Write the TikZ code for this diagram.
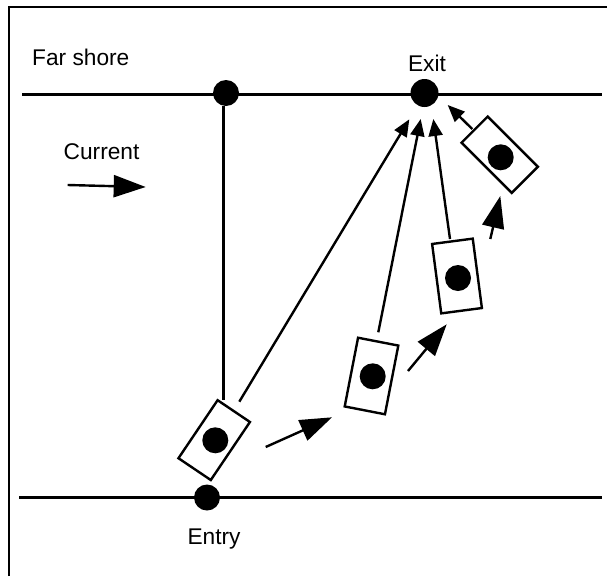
\documentclass[tikz,border=0pt]{standalone}
\usepackage{fontspec}
\setmainfont{Liberation Sans}
\usetikzlibrary{arrows.meta}
\tikzset{
  ink/.style={line width=2.4pt,black},
  shore/.style={ink},
  dot/.style={circle,fill=black,draw=none,inner sep=0pt,minimum size=26pt},
  boat/.style={rectangle,draw=black,line width=2.4pt,fill=white,inner sep=0pt,minimum width=40pt,minimum height=70pt},
  label/.style={inner sep=0pt,font=\fontsize{22.7pt}{24pt}\selectfont},
  bigarrow/.style={ink,-{Triangle[length=32pt,width=22pt]}},
  smallarrow/.style={ink,-{Triangle[length=17pt,width=14pt]}}
}
\begin{document}
\begin{tikzpicture}[x=1pt,y=-1pt]
\useasboundingbox (0,0) rectangle (607,576);
\coordinate (fl) at (22,94.3);
\coordinate (fr) at (602,94.3);
\coordinate (nl) at (19,497.3);
\coordinate (nr) at (602,497.3);
\coordinate (tl) at (9,7);
\coordinate (tr) at (607,7);
\coordinate (bl) at (9,576);
\draw[ink] (bl) -- (tl) -- (tr);
\draw[shore] (fl) -- (fr);
\draw[shore] (nl) -- (nr);
\node[dot] (mid) at (226,93) {};
\node[dot,minimum size=28pt] (exit) at (424.5,93) {};
\node[dot] (entry) at (207,497.5) {};
\node[boat,minimum width=39pt,rotate=-34] (b1) at (214.2,440.1) {};
\node[boat,minimum width=41pt,rotate=-11] (b2) at (371.5,376) {};
\node[boat,minimum width=41pt,rotate=7.5] (b3) at (457,276) {};
\node[boat,minimum width=37pt,minimum height=71pt,rotate=45] (b4) at (499.7,154.7) {};
\node[dot] (d1) at (215.3,440.3) {};
\node[dot] (d2) at (372.7,376.3) {};
\node[dot] (d3) at (458,278) {};
\node[dot] (d4) at (500.7,157.3) {};
\node[label,anchor=base west] (far) at (32,65.5) {Far shore};
\node[label,anchor=base west] (cur) at (63.5,159.5) {Current};
\node[label,anchor=base] (ex) at (427,71) {Exit};
\node[label,anchor=base] (en) at (214,544) {Entry};
\coordinate (cs) at (67.7,185);
\coordinate (ce) at (145.7,187);
\coordinate (v1) at (223.5,400);
\coordinate (a1s) at (239.3,401.7);
\coordinate (a1e) at (409.3,119.3);
\coordinate (a2s) at (378.3,332.3);
\coordinate (a2e) at (420.7,119);
\coordinate (a3s) at (450,239);
\coordinate (a3e) at (433.3,119);
\coordinate (a4s) at (472.3,129);
\coordinate (a4e) at (447.7,105);
\coordinate (m1s) at (265.7,447);
\coordinate (m1e) at (332,417.3);
\coordinate (m2s) at (408,371);
\coordinate (m2e) at (446.7,324.3);
\coordinate (m3s) at (490.3,239);
\coordinate (m3e) at (500.3,196);
\draw[bigarrow] (cs) -- (ce);
\draw[ink] (mid.south -| v1) -- (v1);
\draw[smallarrow] (a1s) -- (a1e);
\draw[smallarrow] (a2s) -- (a2e);
\draw[smallarrow] (a3s) -- (a3e);
\draw[smallarrow] (a4s) -- (a4e);
\draw[bigarrow] (m1s) -- (m1e);
\draw[bigarrow] (m2s) -- (m2e);
\draw[bigarrow] (m3s) -- (m3e);
\end{tikzpicture}
\end{document}
